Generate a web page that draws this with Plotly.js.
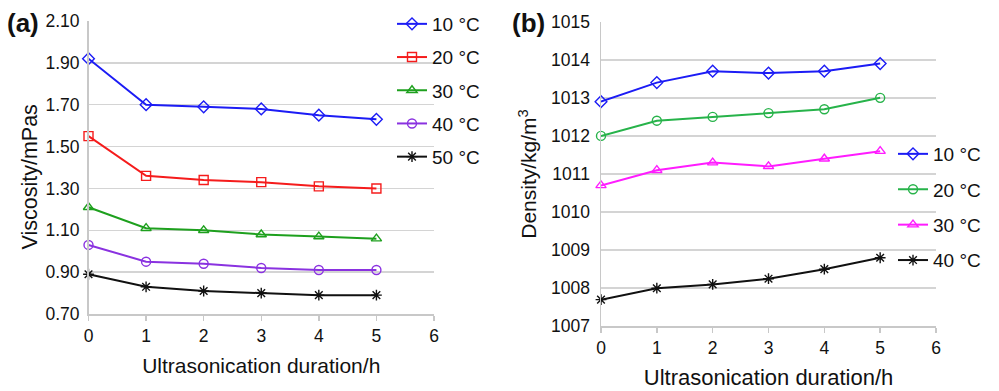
<!DOCTYPE html>
<html>
<head>
<meta charset="utf-8">
<script src="https://cdn.plot.ly/plotly-3.0.1.min.js"></script>
<style>html,body{margin:0;padding:0;background:#fff;}#chart{width:999px;height:391px;}</style>
</head>
<body>
<div id="chart"></div>
<script>
// Shared x values
const hours = [0, 1, 2, 3, 4, 5];

// Panel (a): viscosity (mPa s)
const viscLabels = ["10 °C", "20 °C", "30 °C", "40 °C", "50 °C"];
const visc10 = [1.92, 1.70, 1.69, 1.68, 1.65, 1.63];
const visc20 = [1.55, 1.36, 1.34, 1.33, 1.31, 1.30];
const visc30 = [1.21, 1.11, 1.10, 1.08, 1.07, 1.06];
const visc40 = [1.03, 0.95, 0.94, 0.92, 0.91, 0.91];
const visc50 = [0.89, 0.83, 0.81, 0.80, 0.79, 0.79];
const viscTicks = [0.70, 0.90, 1.10, 1.30, 1.50, 1.70, 1.90, 2.10];

// Panel (b): density (kg/m3)
const densLabels = ["10 °C", "20 °C", "30 °C", "40 °C"];
const dens10 = [1012.9, 1013.4, 1013.7, 1013.65, 1013.7, 1013.9];
const dens20 = [1012.0, 1012.4, 1012.5, 1012.6, 1012.7, 1013.0];
const dens30 = [1010.7, 1011.1, 1011.3, 1011.2, 1011.4, 1011.6];
const dens40 = [1007.7, 1008.0, 1008.1, 1008.25, 1008.5, 1008.8];
const densTicks = [1007, 1008, 1009, 1010, 1011, 1012, 1013, 1014, 1015];

const FONT = "Liberation Sans, Arial, Helvetica, sans-serif";

function tr(y, name, color, symbol, xa, ya, legend, group) {
  return {
    x: hours, y: y, name: name, type: "scatter", mode: "lines+markers",
    xaxis: xa, yaxis: ya, legend: legend, legendgroup: group,
    line: {color: color, width: 2},
    marker: {symbol: symbol, size: 9, color: color, line: {color: color, width: 1.4}},
    cliponaxis: false
  };
}

const data = [
  tr(visc10, viscLabels[0], "#1c1cf5", "diamond-open", "x", "y", "legend", "a1"),
  tr(visc20, viscLabels[1], "#f51c1c", "square-open", "x", "y", "legend", "a2"),
  tr(visc30, viscLabels[2], "#1ea01e", "triangle-up-open", "x", "y", "legend", "a3"),
  tr(visc40, viscLabels[3], "#8a32e0", "circle-open", "x", "y", "legend", "a4"),
  tr(visc50, viscLabels[4], "#111111", "asterisk-open", "x", "y", "legend", "a5"),
  tr(dens10, densLabels[0], "#1c1cf5", "diamond-open", "x2", "y2", "legend2", "b1"),
  tr(dens20, densLabels[1], "#27b34a", "circle-open", "x2", "y2", "legend2", "b2"),
  tr(dens30, densLabels[2], "#ff1cff", "triangle-up-open", "x2", "y2", "legend2", "b3"),
  tr(dens40, densLabels[3], "#111111", "asterisk-open", "x2", "y2", "legend2", "b4")
];

const W = 999, H = 391;
const axCommonX = {
  range: [0, 6], dtick: 1, tick0: 0, showgrid: false, zeroline: false,
  showline: true, linecolor: "#c8c8c8", linewidth: 1.5,
  ticks: "outside", ticklen: 5, tickcolor: "#c8c8c8", tickwidth: 1.5,
  tickfont: {family: FONT, size: 17.5, color: "#111"}, fixedrange: true
};
const axCommonY = {
  showgrid: true, gridcolor: "#d4d4d4", gridwidth: 1.5, zeroline: false,
  showline: true, linecolor: "#c8c8c8", linewidth: 1.5, ticks: "",
  tickfont: {family: FONT, size: 17.5, color: "#111"}, fixedrange: true
};

const layout = {
  width: W, height: H,
  margin: {l: 0, r: 0, t: 0, b: 0},
  paper_bgcolor: "#fff", plot_bgcolor: "#fff",
  font: {family: FONT, color: "#111"},
  showlegend: true,
  xaxis: Object.assign({}, axCommonX, {
    domain: [88.5 / W, 434 / W], anchor: "y",
    title: {text: "Ultrasonication duration/h", font: {family: FONT, size: 21, color: "#111"}, standoff: 14}
  }),
  yaxis: Object.assign({}, axCommonY, {
    domain: [(H - 314) / H, (H - 21) / H], anchor: "x",
    range: [0.70, 2.10], tickvals: viscTicks, tickformat: ".2f", ticklabelstandoff: 4
  }),
  xaxis2: Object.assign({}, axCommonX, {
    domain: [601 / W, 936 / W], anchor: "y2",
    title: {text: "Ultrasonication duration/h", font: {family: FONT, size: 22, color: "#111"}, standoff: 13}
  }),
  yaxis2: Object.assign({}, axCommonY, {
    domain: [(H - 326.3) / H, (H - 21.7) / H], anchor: "x2",
    range: [1007, 1015], tickvals: densTicks, tickformat: "d", ticklabelstandoff: 6,
    title: {text: "Density/kg/m<sup>3</sup>", font: {family: FONT, size: 21, color: "#111"}, standoff: 8}
  }),
  legend: {
    x: 392 / W, y: 1 - 5 / H, xanchor: "left", yanchor: "top",
    bgcolor: "rgba(0,0,0,0)", borderwidth: 0, tracegroupgap: 5.5,
    font: {family: FONT, size: 19, color: "#111"}, itemclick: false, itemdoubleclick: false
  },
  legend2: {
    x: 893 / W, y: 1 - 135 / H, xanchor: "left", yanchor: "top",
    bgcolor: "rgba(0,0,0,0)", borderwidth: 0, tracegroupgap: 7.7,
    font: {family: FONT, size: 19, color: "#111"}, itemclick: false, itemdoubleclick: false
  },
  annotations: [
    {text: "<b>(a)</b>", xref: "paper", yref: "paper", x: 5 / W, y: 1 - 6 / H,
     xanchor: "left", yanchor: "top", showarrow: false, font: {family: FONT, size: 26, color: "#111"}},
    {text: "<b>(b)</b>", xref: "paper", yref: "paper", x: 510 / W, y: 1 - 6 / H,
     xanchor: "left", yanchor: "top", showarrow: false, font: {family: FONT, size: 26, color: "#111"}},
    {text: "Viscosity/mPas", xref: "paper", yref: "paper", x: 29 / W, y: 1 - 177.5 / H,
     xanchor: "center", yanchor: "middle", textangle: -90, showarrow: false,
     font: {family: FONT, size: 21.5, color: "#111"}}
  ]
};

Plotly.newPlot("chart", data, layout, {displayModeBar: false, staticPlot: true});
</script>
</body>
</html>
